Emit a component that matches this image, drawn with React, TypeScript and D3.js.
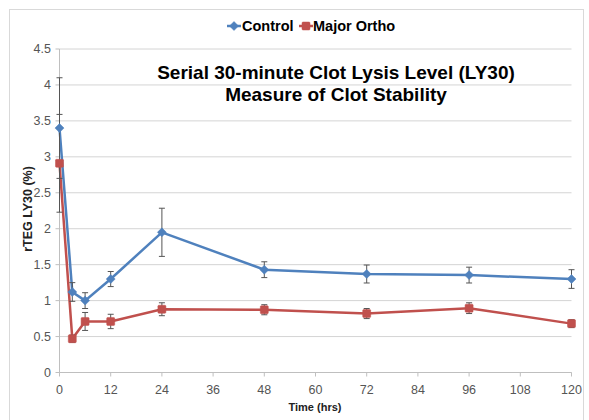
import React from "react";
import * as d3 from "d3";

const times = [0, 3, 6, 12, 24, 48, 72, 96, 120];
const controlMean = [3.4, 1.12, 1.0, 1.3, 1.95, 1.43, 1.37, 1.355, 1.3];
const controlErr = [0.7, 0.13, 0.11, 0.105, 0.335, 0.11, 0.125, 0.11, 0.13];
const orthoMean = [2.91, 0.47, 0.71, 0.71, 0.88, 0.873, 0.82, 0.895, 0.68];
const orthoErr = [0.68, 0.05, 0.125, 0.1, 0.09, 0.07, 0.07, 0.075, 0.055];
const xTicks = [0, 12, 24, 36, 48, 60, 72, 84, 96, 108, 120];
const yTicks = [0, 0.5, 1, 1.5, 2, 2.5, 3, 3.5, 4, 4.5];
const seriesNames = ["Control", "Major Ortho"];
const titleLines = ["Serial 30-minute Clot Lysis Level (LY30)", "Measure of Clot Stability"];

const W = 589;
const H = 420;
const FONT = "'Liberation Sans', Arial, sans-serif";
const BLUE = "#4F81BD";
const RED = "#C0504D";

export default function App() {
  const x = d3.scaleLinear().domain([0, 120]).range([59.5, 571.5]);
  const y = d3.scaleLinear().domain([0, 4.5]).range([372.5, 49]);
  const line = d3
    .line<[number, number]>()
    .x((d) => x(d[0]))
    .y((d) => y(d[1]));

  const series = [
    { name: seriesNames[0], mean: controlMean, err: controlErr, color: BLUE, shape: "diamond" },
    { name: seriesNames[1], mean: orthoMean, err: orthoErr, color: RED, shape: "square" },
  ];

  const marker = (shape: string, cx: number, cy: number, color: string, key: string) =>
    shape === "diamond" ? (
      <path key={key} d={`M${cx},${cy - 4.5}L${cx + 4.5},${cy}L${cx},${cy + 4.5}L${cx - 4.5},${cy}Z`} fill={color} stroke={color} strokeWidth={0.5} />
    ) : (
      <rect key={key} x={cx - 4} y={cy - 4} width={8} height={8} fill={color} stroke={color} strokeWidth={0.5} rx={1} />
    );

  return (
    <svg width={W} height={H} style={{ position: "absolute", left: 0, top: 0, background: "#fff" }} fontFamily={FONT}>
      <rect x={0} y={0} width={W} height={H} fill="#fff" />
      <rect x={9.5} y={9.5} width={574} height={420} fill="none" stroke="#d9d9d9" strokeWidth={1} />

      {/* grid */}
      {yTicks.map((t) => (
        <line key={"g" + t} x1={x(0)} x2={x(120)} y1={y(t)} y2={y(t)} stroke="#d4d4d4" strokeWidth={1} />
      ))}
      {/* axes */}
      <line x1={x(0)} x2={x(0)} y1={y(0)} y2={y(4.5)} stroke="#bfbfbf" strokeWidth={1} />
      <line x1={x(0)} x2={x(120)} y1={y(0)} y2={y(0)} stroke="#bfbfbf" strokeWidth={1} />
      {yTicks.map((t) => (
        <g key={"yt" + t}>
          <line x1={x(0) - 4} x2={x(0)} y1={y(t)} y2={y(t)} stroke="#bfbfbf" />
          <text x={x(0) - 8.5} y={y(t)} dy="0.35em" textAnchor="end" fontSize={12.5} fill="#555">
            {t}
          </text>
        </g>
      ))}
      {xTicks.map((t) => (
        <g key={"xt" + t}>
          <line x1={x(t)} x2={x(t)} y1={y(0)} y2={y(0) + 4} stroke="#bfbfbf" />
          <text x={x(t)} y={y(0) + 21} textAnchor="middle" fontSize={12.5} fill="#555">
            {t}
          </text>
        </g>
      ))}

      {/* axis titles */}
      <text x={315} y={411} textAnchor="middle" fontSize={11} fontWeight="bold" fill="#222">
        Time (hrs)
      </text>
      <text transform={`translate(32,209) rotate(-90)`} textAnchor="middle" fontSize={12.5} fontWeight="bold" fill="#222">
        rTEG LY30 (%)
      </text>

      {/* title */}
      {titleLines.map((t, i) => (
        <text key={t} x={336} y={79 + i * 22} textAnchor="middle" fontSize={19} fontWeight="bold" fill="#000">
          {t}
        </text>
      ))}

      {/* series */}
      {series.map((s) => {
        const pts: [number, number][] = times.map((t, i) => [t, s.mean[i]]);
        return (
          <g key={s.name}>
            <path d={line(pts) || ""} fill="none" stroke={s.color} strokeWidth={2.5} />
          </g>
        );
      })}
      {series.map((s) => (
        <g key={s.name + "eb"}>
          {times.map((t, i) => {
            const cx = x(t);
            const hi = y(s.mean[i] + s.err[i]);
            const lo = y(s.mean[i] - s.err[i]);
            return (
              <g key={i}>
                <line x1={cx} x2={cx} y1={hi} y2={lo} stroke="#555" strokeWidth={1} />
                <line x1={cx - 3} x2={cx + 3} y1={hi} y2={hi} stroke="#555" strokeWidth={1} />
                <line x1={cx - 3} x2={cx + 3} y1={lo} y2={lo} stroke="#555" strokeWidth={1} />
              </g>
            );
          })}
        </g>
      ))}
      {series.map((s) => (
        <g key={s.name + "m"}>{times.map((t, i) => marker(s.shape, x(t), y(s.mean[i]), s.color, s.name + i))}</g>
      ))}

      {/* legend */}
      <g>
        <line x1={227} x2={241} y1={26} y2={26} stroke={BLUE} strokeWidth={2.5} />
        {marker("diamond", 234, 26, BLUE, "ld")}
        <text x={242} y={26} dy="0.36em" fontSize={14.5} fontWeight="bold" fill="#000">
          {seriesNames[0]}
        </text>
        <line x1={299} x2={313} y1={26} y2={26} stroke={RED} strokeWidth={2.5} />
        {marker("square", 306, 26, RED, "ls")}
        <text x={313} y={26} dy="0.36em" fontSize={14.5} fontWeight="bold" fill="#000">
          {seriesNames[1]}
        </text>
      </g>
    </svg>
  );
}
